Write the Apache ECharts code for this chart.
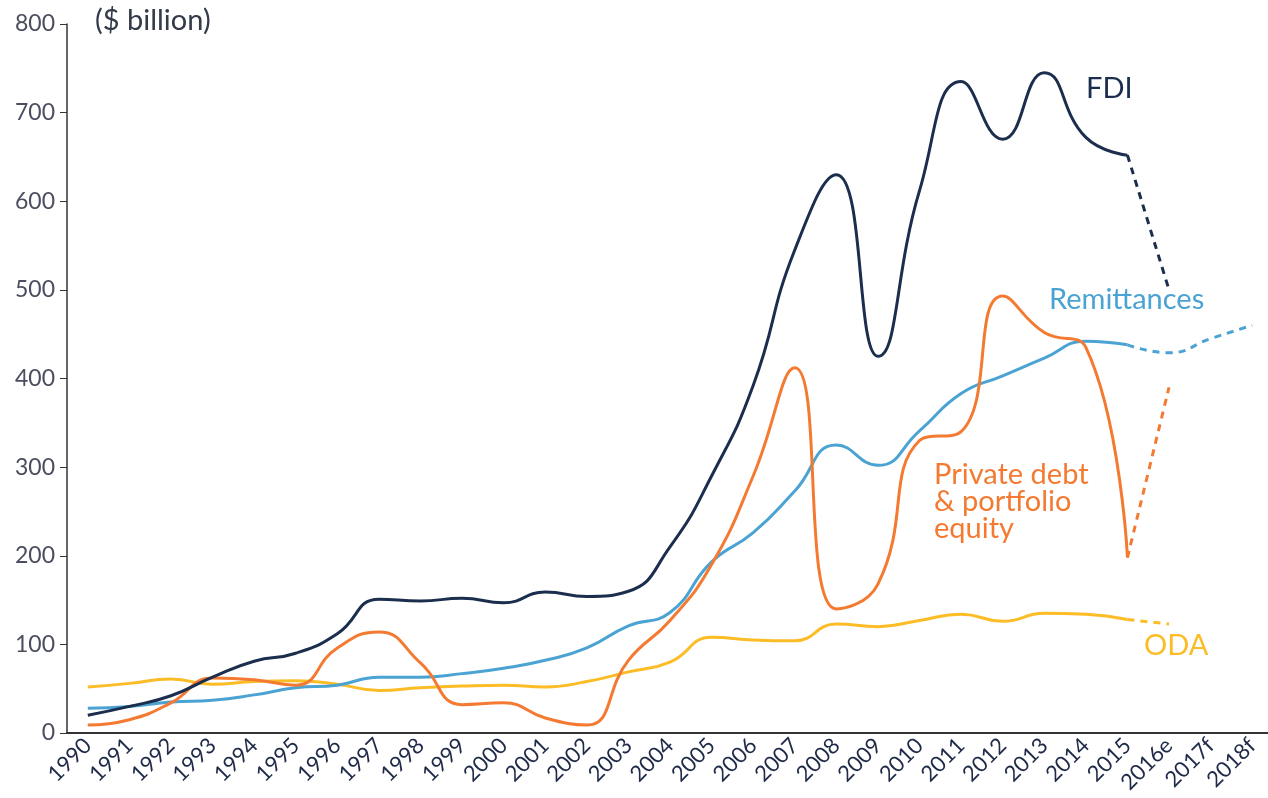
<!DOCTYPE html>
<html>
<head>
<meta charset="utf-8">
<script src="https://cdn.jsdelivr.net/npm/echarts@6/dist/echarts.min.js"></script>
<style>
  html, body { margin: 0; padding: 0; background: #fff; }
  #chart { width: 1268px; height: 798px; }
</style>
</head>
<body>
<div id="chart"></div>
<script>
// categories
var years = ['1990', '1991', '1992', '1993', '1994', '1995', '1996', '1997', '1998', '1999',
  '2000', '2001', '2002', '2003', '2004', '2005', '2006', '2007', '2008', '2009',
  '2010', '2011', '2012', '2013', '2014', '2015', '2016e', '2017f', '2018f'];

// actuals 1990-2015
var fdi = [20, 30, 42, 63, 81, 90, 112, 151, 149, 152, 147, 159, 154, 160, 210, 290, 392, 545, 630, 425,
  612, 735, 670, 745, 672, 652];
var remittances = [28, 30, 35, 37, 43, 51, 54, 63, 63, 67, 73, 82, 96, 121, 136, 193, 226, 273, 325, 302,
  341, 383, 403, 423, 442, 438];
var privateDebt = [9, 15, 34, 62, 60, 54, 96, 114, 79, 32, 34, 17, 9, 82, 127, 190, 290, 412, 140, 168,
  330, 340, 493, 452, 435, 198];
var oda = [52, 56, 61, 55, 58, 59, 55, 48, 51, 53, 54, 52, 58, 69, 80, 108, 105, 104, 123, 120,
  127, 134, 126, 135, 134, 128];

// estimates / forecasts (from 2015 on)
var fdiEst = [652, 500];
var remittancesEst = [438, 429, 445, 460];
var privateDebtEst = [198, 390];
var odaEst = [128, 123];

var C_FDI = '#1c2e4d', C_REM = '#4aa3d2', C_PDE = '#f47a32', C_ODA = '#fbbc26';
var FONT = 'Lato, sans-serif';

function solid(arr) {
  return years.map(function (y, i) { return i < arr.length ? arr[i] : '-'; });
}
function dashed(arr) {
  var start = 25; // 2015
  return years.map(function (y, i) {
    var k = i - start;
    return (k >= 0 && k < arr.length) ? arr[k] : '-';
  });
}
function line(name, data, color, isDash) {
  return {
    name: name,
    type: 'line',
    data: data,
    smooth: 0.5,
    symbol: 'none',
    connectNulls: false,
    lineStyle: { color: color, width: 3, type: isDash ? [7, 6] : 'solid' },
    z: isDash ? 2 : 3
  };
}

var chart = echarts.init(document.getElementById('chart'));
chart.setOption({
  animation: false,
  backgroundColor: '#fff',
  grid: { left: 67, right: -5, top: 24, bottom: 65, containLabel: false, outerBoundsMode: 'none' },
  xAxis: {
    type: 'category',
    data: years,
    boundaryGap: true,
    axisLine: { lineStyle: { color: '#333', width: 2 } },
    axisTick: { alignWithLabel: true, length: 6, lineStyle: { color: '#333' } },
    axisLabel: {
      rotate: 45, interval: 0, margin: 9,
      fontFamily: FONT, fontSize: 22, color: '#1f2a48'
    }
  },
  yAxis: {
    type: 'value',
    min: 0, max: 800, interval: 100,
    splitLine: { show: false },
    axisLine: { show: true, lineStyle: { color: '#333', width: 1.5 } },
    axisTick: { show: true, length: 7, lineStyle: { color: '#333' } },
    axisLabel: { fontFamily: FONT, fontSize: 23, color: '#4a4e5e', margin: 12 }
  },
  graphic: [
    { type: 'text', left: 95, top: 6, style: { text: '($ billion)', font: '29px ' + FONT, fill: '#333a4a' } },
    { type: 'text', left: 1086, top: 74, style: { text: 'FDI', font: '29px ' + FONT, fill: C_FDI } },
    { type: 'text', left: 1049, top: 285, style: { text: 'Remittances', font: '29px ' + FONT, fill: C_REM } },
    { type: 'text', left: 934, top: 460, style: { text: 'Private debt\n& portfolio\nequity', font: '29px ' + FONT, lineHeight: 27, fill: C_PDE } },
    { type: 'text', left: 1144, top: 631, style: { text: 'ODA', font: '29px ' + FONT, fill: C_ODA } }
  ],
  series: [
    line('ODA', solid(oda), C_ODA, false),
    line('ODA est', dashed(odaEst), C_ODA, true),
    line('Remittances', solid(remittances), C_REM, false),
    line('Remittances est', dashed(remittancesEst), C_REM, true),
    line('Private debt & portfolio equity', solid(privateDebt), C_PDE, false),
    line('Private debt est', dashed(privateDebtEst), C_PDE, true),
    line('FDI', solid(fdi), C_FDI, false),
    line('FDI est', dashed(fdiEst), C_FDI, true)
  ]
});
</script>
</body>
</html>
